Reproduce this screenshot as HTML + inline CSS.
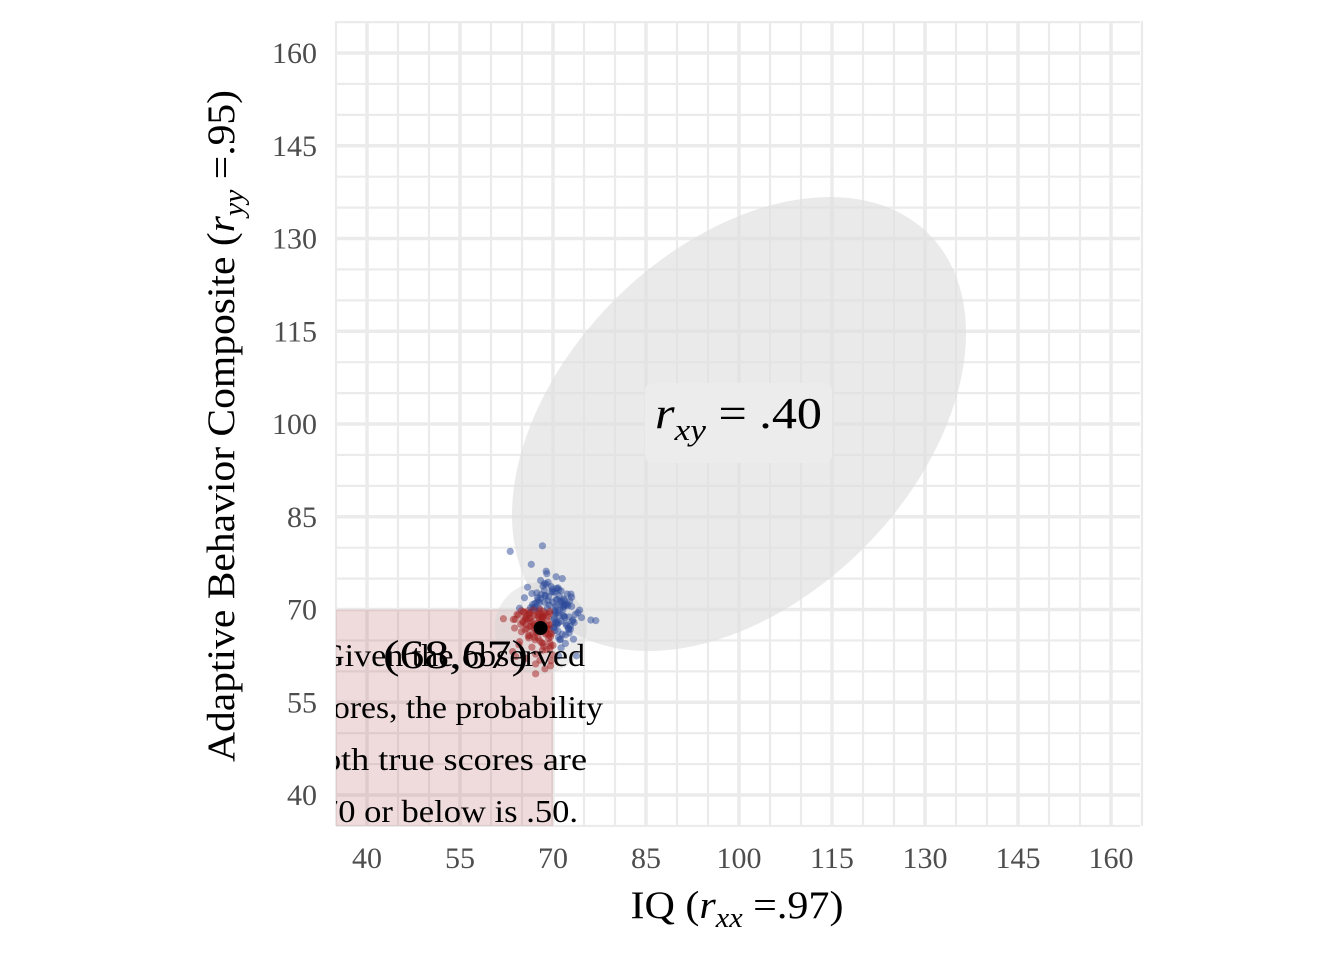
<!DOCTYPE html>
<html><head><meta charset="utf-8">
<style>
html,body{margin:0;padding:0;background:#fff;}
svg{display:block;font-family:"Liberation Serif",serif;}
</style></head>
<body>
<svg id="chart" width="1344" height="960" viewBox="0 0 1344 960">
<defs><clipPath id="panelClip"><rect x="336" y="21" width="804" height="805"/></clipPath></defs>
<g id="grid"></g>
<g id="marks" clip-path="url(#panelClip)"></g>
<g id="axes"></g>
<text x="737" y="918" font-size="39" text-anchor="middle" fill="#000" textLength="213" lengthAdjust="spacingAndGlyphs">IQ (<tspan font-style="italic">r</tspan><tspan font-style="italic" font-size="28" dy="9">xx</tspan><tspan dy="-9"> =.97)</tspan></text>
<text transform="translate(234,426) rotate(-90)" font-size="39" text-anchor="middle" fill="#000" textLength="672" lengthAdjust="spacingAndGlyphs">Adaptive Behavior Composite (<tspan font-style="italic">r</tspan><tspan font-style="italic" font-size="28" dy="9">yy</tspan><tspan dy="-9"> =.95)</tspan></text>
</svg>
<script>
const xTicks=[40,55,70,85,100,115,130,145,160];
const yTicks=[40,55,70,85,100,115,130,145,160];
const observed=[68,67];
const cutoff=70;
const rxy=0.40;
const meanScore=100;
const sdScore=15;
const probability=".50";
const ptsX=[68.3,67.1,69.4,70.2,66.5,68.8,71.3,67.6,65.2,69.9,72.1,68.4,66.7,70.6,67.3,69.2,68.1,64.4,71.7,73.2,66.2,68.6,70.9,67.8,69.5,65.6,72.4,68.9,70.3,66.1,67.4,69.7,71.1,68.2,64.8,70.5,73.6,67.9,69.3,66.4,68.7,71.5,65.9,70.1,68.5,67.2,72.7,69.1,66.8,70.8,68.0,74.3,67.5,69.6,65.4,71.9,68.3,70.4,66.6,72.2,67.7,69.8,63.9,70.7,68.9,71.2,66.3,73.1,68.6,67.0,69.4,70.0,65.7,72.5,68.1,66.9,71.4,69.0,67.3,70.2,64.6,68.4,72.0,69.7,66.0,70.6,67.6,76.1,68.8,71.6,69.2,65.3,70.9,68.2,66.5,73.4,67.9,69.5,62.0,71.0,68.5,70.3,67.1,72.8,66.7,69.9,68.7,71.8,65.8,70.4,74.6,67.4,69.3,68.0,66.2,70.7,72.3,63.1,76.9,64.9,69.6,71.3,67.7,68.6,73.8,66.4,70.1,65.5,69.0,72.6,67.2,71.7,68.3,63.6,70.5,66.9,69.8,70.8,71.9,67.5,68.9,69.1,70.3,72.9,71.2,68.4,69.7,70.6,67.8,73.0,71.5,69.4,70.0,68.1,72.1,70.9,69.2,71.1,67.0,68.7,74.0,70.2,69.5,71.8,
64.2,65.1,66.3,67.4,68.5,69.6,63.8,64.9,66.0,67.1,68.2,69.3,65.5,66.6,67.7,68.8,69.9,64.5,65.6,66.7,67.8,68.9,63.5,64.6,65.7,66.8,67.9,69.0,65.2,66.3,67.4,68.5,69.6,64.0,66.1,67.2,68.3,69.4,65.9,67.0,
71.0,72.0,73.0,71.5,72.5,70.5,71.8,72.8,70.8,71.3,72.3,73.3,70.4,71.6,72.6,70.9,71.9,72.2,73.5,71.2];
const ptsY=[68.6,70.4,66.9,69.8,67.2,72.3,68.1,65.4,69.6,71.2,67.7,64.5,70.8,73.4,67.3,68.9,66.4,69.1,71.7,68.3,65.8,74.2,67.9,70.1,63.7,68.5,70.6,66.2,72.8,69.4,71.1,67.5,65.1,68.8,67.6,75.3,69.2,64.9,72.1,68.0,66.7,70.9,73.6,67.1,69.7,62.8,71.4,68.2,70.3,66.5,74.7,69.9,67.8,65.6,71.9,68.7,63.4,70.5,72.6,67.4,69.3,66.1,68.4,71.6,76.2,65.2,69.5,68.1,73.1,67.0,70.7,64.2,68.9,66.8,72.4,69.0,71.3,67.2,66.3,68.6,70.2,73.8,65.9,61.7,69.8,67.7,71.5,68.3,66.0,70.4,74.4,69.6,65.5,68.8,77.3,67.9,70.0,64.6,68.5,72.2,69.1,66.6,71.0,67.3,68.0,73.3,60.4,70.6,66.9,69.4,68.7,72.7,65.3,71.8,69.2,67.6,70.9,79.4,68.2,66.4,64.1,73.0,69.7,71.2,62.5,70.3,67.1,68.6,75.8,66.2,59.6,69.0,80.3,68.4,71.6,67.5,72.9,73.5,70.8,71.9,74.1,70.2,69.6,72.5,71.3,68.9,73.7,70.5,71.1,72.0,75.0,69.3,72.8,68.1,70.7,73.2,71.4,69.9,70.1,72.2,
69.5,68.4,69.7,68.9,69.2,68.1,67.3,66.5,67.8,66.2,67.0,69.8,65.7,65.1,64.6,65.9,66.7,63.9,68.8,69.4,62.7,64.3,67.6,66.1,68.3,63.5,63.2,64.8,62.1,69.9,61.8,66.9,67.9,68.6,69.1,64.0,60.9,62.4,65.4,61.2,
66.5,67.5,68.5,65.5,69.0,64.5,70.5,66.0,67.0,68.0,71.5,66.8,69.5,63.8,72.5,65.2,67.8,70.0,68.8,62.5];
const X=v=>367+(v-40)*6.2;
const Y=v=>795-(v-40)*6.183;
const NS="http://www.w3.org/2000/svg";
function mk(tag,attrs,parent){const e=document.createElementNS(NS,tag);for(const k in attrs)e.setAttribute(k,attrs[k]);parent.appendChild(e);return e;}
const grid=document.getElementById('grid'),marks=document.getElementById('marks'),axes=document.getElementById('axes');
for(let v=35;v<=165;v+=5){
  const major=(v-40)%15===0;
  const lx=mk('line',{x1:X(v),x2:X(v),y1:21,y2:826,stroke:'#ebebeb','stroke-width':major?3.5:2.2},grid);
  
  
  const ly=mk('line',{x1:336,x2:1140,y1:Y(v),y2:Y(v),stroke:'#ebebeb','stroke-width':major?3.5:2.2},grid);
  
  
}
const half=Math.sqrt(2)*sdScore*1.726;
const a=half*Math.sqrt(1+rxy),b=half*Math.sqrt(1-rxy);
const el=mk('ellipse',{cx:X(meanScore),cy:Y(meanScore),rx:a*6.2,ry:b*6.2,fill:'#dedede','fill-opacity':0.65,transform:`rotate(-45 ${X(meanScore)} ${Y(meanScore)})`},marks);


const reg=mk('rect',{x:X(20),y:Y(cutoff),width:X(cutoff)-X(20),height:Y(20)-Y(cutoff),fill:'#b85a5f','fill-opacity':0.22},marks);


const disc=mk('circle',{cx:X(observed[0]),cy:Y(observed[1]),r:46,fill:'#d2d2d2','fill-opacity':0.4},marks);


for(let i=0;i<ptsX.length;i++){
  const inR=ptsX[i]<=cutoff&&ptsY[i]<=cutoff;
  const c=mk('circle',{cx:X(ptsX[i]),cy:Y(ptsY[i]),r:3.6,fill:inR?'#a3201f':'#2c4a9a','fill-opacity':0.5},marks);
  
  
}
const obs=mk('circle',{cx:X(observed[0]),cy:Y(observed[1]),r:7,fill:'#000'},marks);


const lines=["Given the observed","scores, the probability","both true scores are",cutoff+" or below is "+probability+"."];
const tx=[585,603,587,578];
const tw=[265,298,282,257];
lines.forEach((s,i)=>{const t=mk('text',{x:tx[i]-tw[i],y:666+i*52,'font-size':32,textLength:tw[i],lengthAdjust:'spacingAndGlyphs',fill:'#000'},marks);t.textContent=s;
  
  });
const ol=mk('text',{x:383,y:668,'font-size':40,textLength:145,lengthAdjust:'spacingAndGlyphs',fill:'#000'},marks);
ol.textContent=`(${observed[0]},${observed[1]})`;


const lb=mk('rect',{x:645,y:383,width:187,height:80,rx:8,fill:'#ececec'},marks);


const lt=mk('text',{x:655,y:428,'font-size':44,textLength:167,lengthAdjust:'spacingAndGlyphs',fill:'#000'},marks);
lt.innerHTML=`<tspan font-style="italic">r</tspan><tspan font-style="italic" font-size="31" dy="12">xy</tspan><tspan dy="-12"> = ${rxy.toFixed(2).replace(/^0/,'')}</tspan>`;


xTicks.forEach(v=>{const t=mk('text',{x:X(v),y:868,'font-size':30,'text-anchor':'middle',fill:'#4d4d4d'},axes);t.textContent=v;
  
  });
yTicks.forEach(v=>{const t=mk('text',{x:317,y:Y(v)+10,'font-size':30,'text-anchor':'end',fill:'#4d4d4d'},axes);t.textContent=v;
  
  });
</script>
</body></html>
